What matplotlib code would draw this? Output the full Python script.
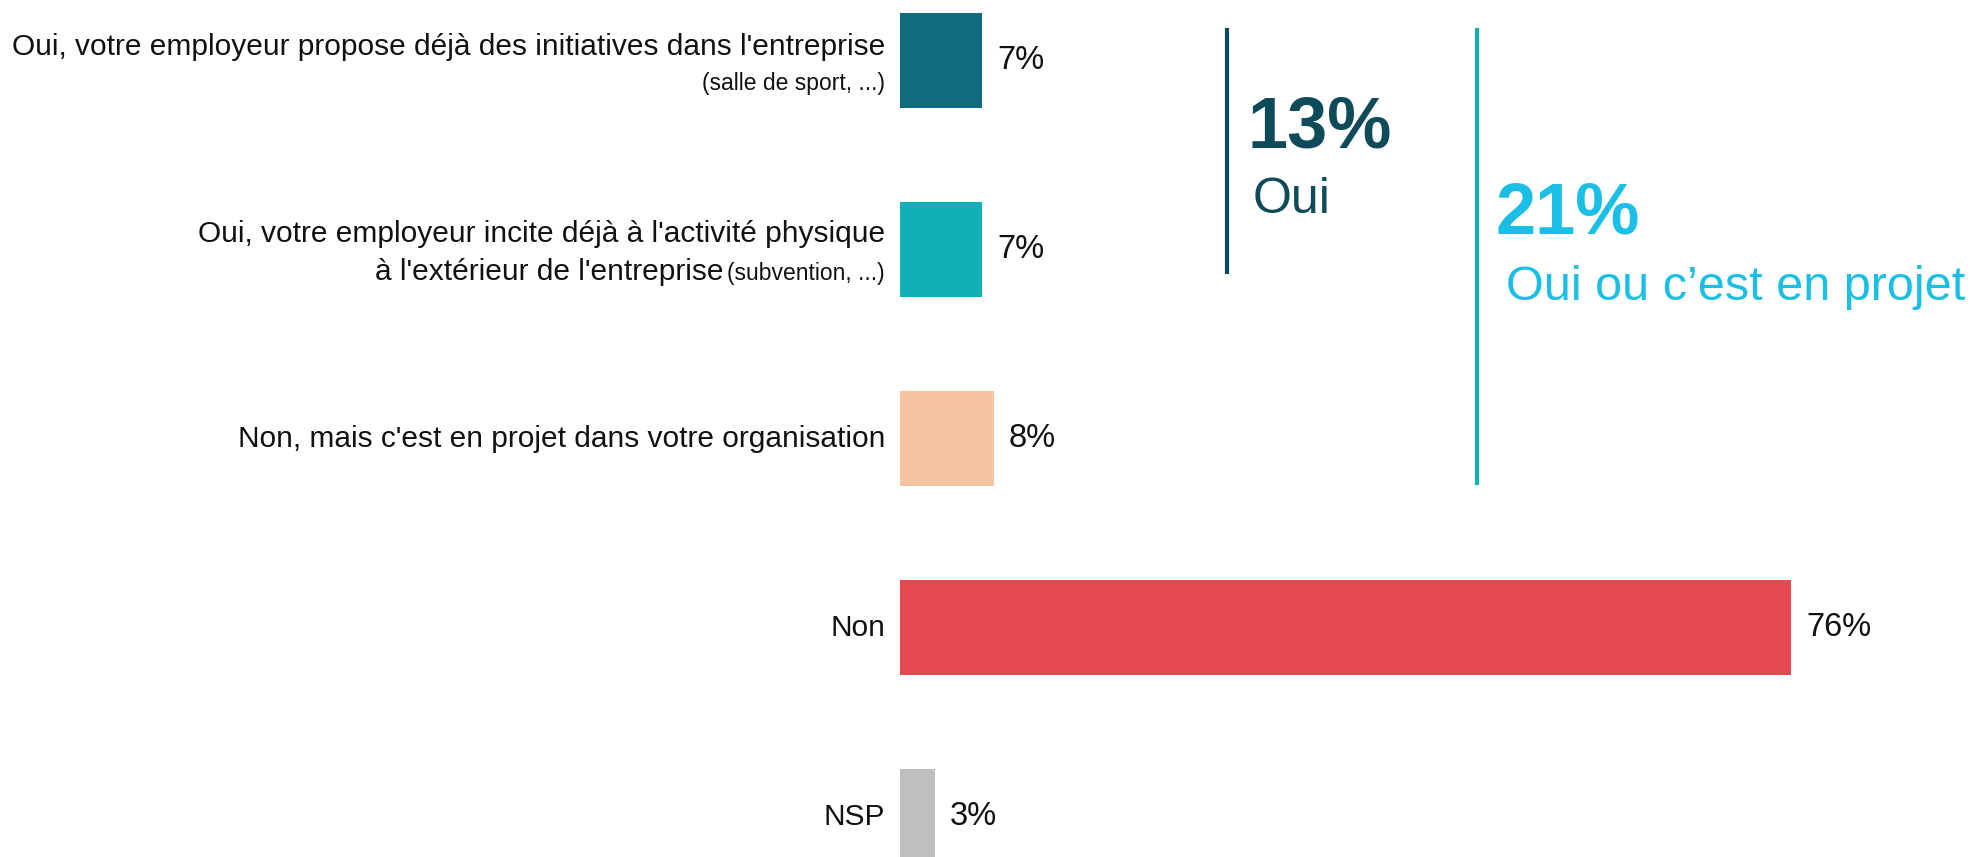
import matplotlib
matplotlib.use("Agg")
import matplotlib.pyplot as plt
from matplotlib.lines import Line2D

# data
labels = ["Oui, votre employeur propose déjà des initiatives dans l'entreprise",
          "Oui, votre employeur incite déjà à l'activité physique",
          "Non, mais c'est en projet dans votre organisation",
          "Non",
          "NSP"]
label_second = ["", "à l'extérieur de l'entreprise", "", "", ""]
label_notes = ["(salle de sport, ...)", "(subvention, ...)", "", "", ""]
values = [7, 7, 8, 76, 3]
colors = ["#0e6b80", "#13afb7", "#f7c4a3", "#e54a52", "#bfbfbf"]

oui_total = 13
oui_projet_total = 21

FONT = "Liberation Sans"
W, H = 1977, 857
LBL = 21.5
NOTE = 16.5

fig = plt.figure(figsize=(W / 100, H / 100), dpi=100)
ax = fig.add_axes([900 / W, 0, 1077 / W, 1])

ypos = list(range(len(values)))
ax.barh(ypos, values, height=0.50, color=colors)
ax.set_xlim(0, 1077 / 11.73)
ax.set_ylim(4.214, -0.32)
ax.axis("off")

# value labels
for y, v in zip(ypos, values):
    ax.annotate(f"{v}%", xy=(v, y), xytext=(15, 0), textcoords="offset pixels",
                ha="left", va="center", fontsize=23.5, family=FONT, color="#111111")

# category labels
fig.canvas.draw()
renderer = fig.canvas.get_renderer()
for y, lab, lab2, note in zip(ypos, labels, label_second, label_notes):
    if note and not lab2:
        ax.annotate(lab, xy=(0, y), xytext=(-15, 5), textcoords="offset pixels",
                    ha="right", va="baseline", fontsize=LBL, family=FONT, color="#111111")
        ax.annotate(note, xy=(0, y), xytext=(-15, -30), textcoords="offset pixels",
                    ha="right", va="baseline", fontsize=NOTE, family=FONT, color="#111111")
    elif lab2:
        ax.annotate(lab, xy=(0, y), xytext=(-15, 8), textcoords="offset pixels",
                    ha="right", va="baseline", fontsize=LBL, family=FONT, color="#111111")
        t = ax.annotate(note, xy=(0, y), xytext=(-15, -30), textcoords="offset pixels",
                        ha="right", va="baseline", fontsize=NOTE, family=FONT, color="#111111")
        w = t.get_window_extent(renderer).width
        ax.annotate(lab2, xy=(0, y), xytext=(-15 - w - 4, -30), textcoords="offset pixels",
                    ha="right", va="baseline", fontsize=LBL, family=FONT, color="#111111")
    else:
        ax.annotate(lab, xy=(0, y), xytext=(-15, 0), textcoords="offset pixels",
                    ha="right", va="center", fontsize=LBL, family=FONT, color="#111111")

# summary brackets on the right
dark = "#0d4a5a"
teal = "#13afb7"
cyan = "#1bbfe6"
fig.add_artist(Line2D([1227 / W, 1227 / W], [1 - 30 / H, 1 - 272 / H], color=dark, lw=3))
fig.add_artist(Line2D([1477 / W, 1477 / W], [1 - 30 / H, 1 - 483 / H], color=teal, lw=3))

fig.text(1248 / W, 1 - 147 / H, f"{oui_total}%", color=dark, fontsize=52, fontweight="bold",
         family=FONT, va="baseline", ha="left")
fig.text(1253 / W, 1 - 213 / H, "Oui", color=dark, fontsize=36, family=FONT,
         va="baseline", ha="left")
fig.text(1495 / W, 1 - 233 / H, f"{oui_projet_total}%", color=cyan, fontsize=52, fontweight="bold",
         family=FONT, va="baseline", ha="left")
fig.text(1506 / W, 1 - 300 / H, "Oui ou c\u2019est en projet", color=cyan, fontsize=35,
         family=FONT, va="baseline", ha="left")

fig.savefig("out.png", dpi=100, facecolor="white")
